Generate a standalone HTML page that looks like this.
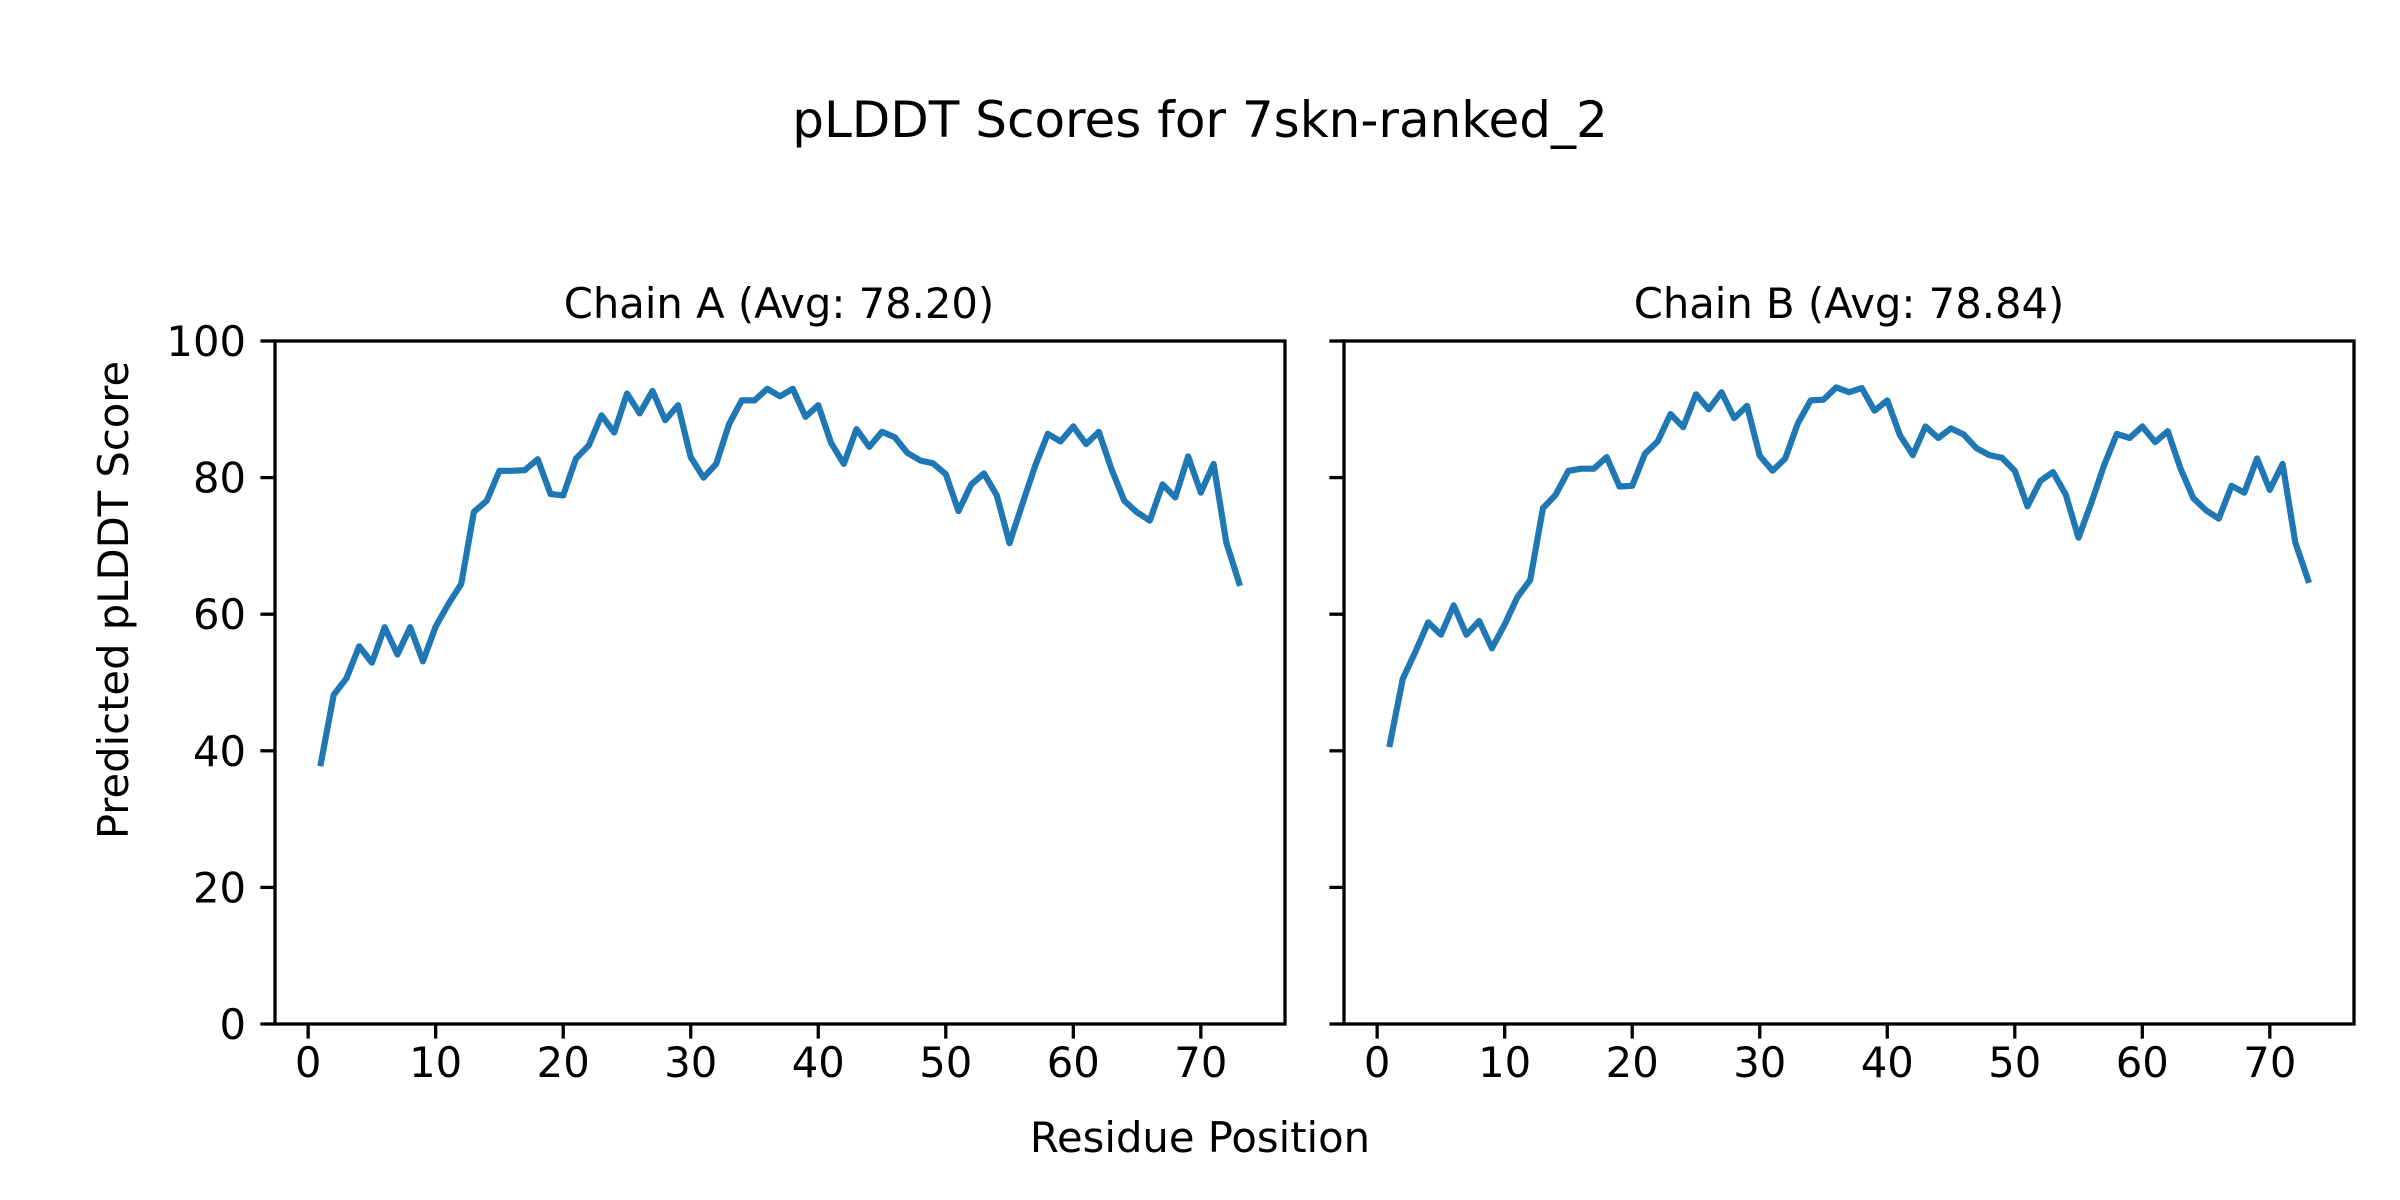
<!DOCTYPE html>
<html><head><meta charset="utf-8"><style>html,body{margin:0;padding:0;background:#fff}svg{display:block}</style></head>
<body>
<svg id="s" width="2400" height="1200" xmlns="http://www.w3.org/2000/svg" font-family="'DejaVu Sans','Liberation Sans',sans-serif">
<rect width="2400" height="1200" fill="#fff"/>
<text x="1200" y="137" font-size="50" text-anchor="middle">pLDDT Scores for 7skn-ranked_2</text>
<text x="779" y="318" font-size="41.7" text-anchor="middle">Chain A (Avg: 78.20)</text>
<text x="1849" y="318" font-size="41.7" text-anchor="middle">Chain B (Avg: 78.84)</text>
<text x="1200" y="1152" font-size="41.7" text-anchor="middle">Residue Position</text>
<text transform="translate(128,600) rotate(-90)" font-size="41.7" text-anchor="middle">Predicted pLDDT Score</text>
<g id="g"></g>
</svg>
<script>
var A=[38.2,48.2,50.6,55.3,52.9,58.1,54.1,58.1,53.1,58.2,61.5,64.4,75,76.6,81,81,81.1,82.7,77.6,77.4,82.8,84.7,89.1,86.6,92.3,89.4,92.7,88.4,90.6,83,80,82,87.8,91.3,91.3,93,91.9,93,88.9,90.6,85.1,82,87.1,84.5,86.7,85.9,83.6,82.5,82.1,80.5,75.1,79,80.6,77.4,70.4,76.1,81.7,86.4,85.3,87.5,84.9,86.7,81.2,76.6,74.9,73.7,79,77.1,83.1,77.8,82,70.5,64.6];
var B=[41,50.5,54.5,58.8,57,61.3,57,59,55,58.5,62.5,65,75.5,77.5,81,81.3,81.3,83,78.7,78.8,83.5,85.3,89.3,87.4,92.2,90,92.5,88.7,90.5,83.2,81,82.8,88,91.3,91.4,93.2,92.5,93.1,89.8,91.3,86.2,83.3,87.5,85.8,87.2,86.3,84.3,83.3,82.9,81,75.8,79.5,80.8,77.5,71.2,76.3,81.8,86.4,85.8,87.5,85.2,86.8,81.3,77,75.2,74,78.8,77.8,82.8,78.2,82,70.5,65];
var T=341,Bt=1024,H=Bt-T,W=1010,xmin=-2.6,xmax=76.6;
var out='';
function ax(L,data,showY){
  function X(v){return L+(v-xmin)/(xmax-xmin)*W;}
  function Y(v){return Bt-v/100*H;}
  var p=data.map(function(v,i){return X(i+1).toFixed(1)+','+Y(v).toFixed(1)}).join(' ');
  out+='<polyline points="'+p+'" fill="none" stroke="#1f77b4" stroke-width="6.2" stroke-linejoin="round" stroke-linecap="square"/>';
  out+='<rect x="'+L+'" y="'+T+'" width="'+W+'" height="'+H+'" fill="none" stroke="#000" stroke-width="3.3"/>';
  for(var t=0;t<=70;t+=10){var x=X(t);out+='<line x1="'+x+'" y1="'+Bt+'" x2="'+x+'" y2="'+(Bt+14.6)+'" stroke="#000" stroke-width="3.3"/>';
    out+='<text x="'+x+'" y="'+(Bt+53)+'" font-size="41.7" text-anchor="middle">'+t+'</text>';}
  for(var t=0;t<=100;t+=20){var y=Y(t);out+='<line x1="'+(L-14.6)+'" y1="'+y+'" x2="'+L+'" y2="'+y+'" stroke="#000" stroke-width="3.3"/>';
    if(showY)out+='<text x="'+(L-29)+'" y="'+(y+15)+'" font-size="41.7" text-anchor="end">'+t+'</text>';}
}
ax(275,A,true);ax(1344,B,false);
document.getElementById('g').innerHTML=out;
</script>
</body></html>
